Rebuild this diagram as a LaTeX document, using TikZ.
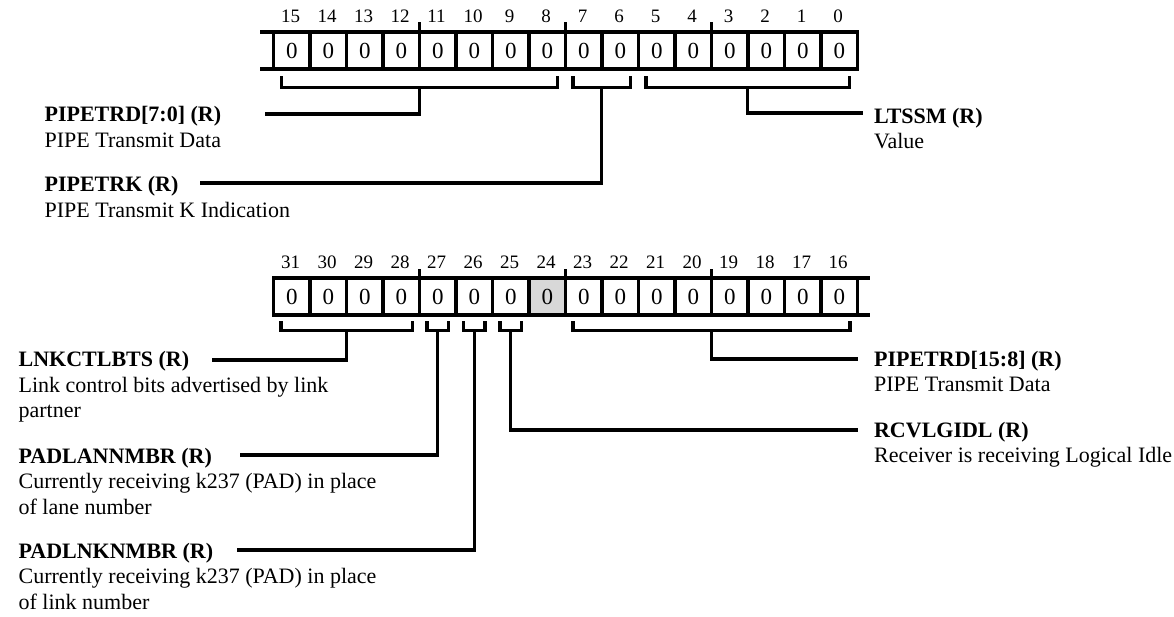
\documentclass[tikz,border=0pt]{standalone}
\usepackage{fontspec}
\setmainfont{Liberation Serif}
\begin{document}
\begin{tikzpicture}[x=1pt,y=-1pt,line width=3.2pt,line join=miter,
  cell/.style={draw,minimum width=36.5pt,minimum height=37pt,inner sep=0pt,outer sep=0pt,anchor=north west,font=\fontsize{23}{25}\selectfont},
  bitnum/.style={inner sep=0pt,font=\fontsize{19}{21}\selectfont},
  lbl/.style={anchor=base west,align=left,inner sep=0pt,font=\fontsize{22}{25.5}\selectfont},
  wire/.style={line width=3.2pt,line join=miter}]
\useasboundingbox (0,0) rectangle (1174,616);
\fill[white] (0,0) rectangle (1174,616);

% ---------- top register (bits 15..0)
\foreach \i in {0,...,15}{
  \pgfmathtruncatemacro{\b}{15-\i}
  \node[cell] (t\b) at ({273.5+36.5*\i},32) {0};
  \node[bitnum] (tn\b) at ({273.5+36.5*\i+17},16.5) {\b};
}
\draw (260,32) -- (273.5,32);
\draw (260,69) -- (273.5,69);
\foreach \x in {419.5,565.5,711.5}{\draw (\x,32) -- (\x,22);}

% ---------- bottom register (bits 31..16)
\foreach \i in {0,...,15}{
  \pgfmathtruncatemacro{\b}{31-\i}
  \ifnum\b=24
    \node[cell,fill={rgb,255:red,216;green,216;blue,216}] (b\b) at ({273.5+36.5*\i},278) {0};
  \else
    \node[cell] (b\b) at ({273.5+36.5*\i},278) {0};
  \fi
  \node[bitnum] (bn\b) at ({273.5+36.5*\i+17},262) {\b};
}
\draw (857.5,278) -- (870,278);
\draw (857.5,315) -- (870,315);
\foreach \x in {419.5,565.5,711.5}{\draw (\x,278) -- (\x,268.5);}

% ---------- labels (anchor = baseline of the last line)
\node[lbl] (lTRDlo) at (43,147.2) {\textbf{PIPETRD[7:0] (R)}\\PIPE Transmit Data};
\node[lbl] (lTRK) at (43,217.2) {\textbf{PIPETRK (R)}\\PIPE Transmit K Indication};
\node[lbl] (lLTSSM) at (872.5,148.5) {\textbf{LTSSM (R)}\\Value};
\node[lbl] (lLNK) at (17,417.7) {\textbf{LNKCTLBTS (R)}\\Link control bits advertised by link\\partner};
\node[lbl] (lPLANE) at (17,514) {\textbf{PADLANNMBR (R)}\\Currently receiving k237 (PAD) in place\\of lane number};
\node[lbl] (lPLNK) at (17,609) {\textbf{PADLNKNMBR (R)}\\Currently receiving k237 (PAD) in place\\of link number};
\node[lbl] (lTRDhi) at (872.5,391.5) {\textbf{PIPETRD[15:8] (R)}\\PIPE Transmit Data};
\node[lbl] (lRCV) at (872.5,462.5) {\textbf{RCVLGIDL (R)}\\Receiver is receiving Logical Idle};

% ---------- connector ends
\coordinate (eTRDlo) at (265,114);
\coordinate (eTRK) at (200,183);
\coordinate (eLTSSM) at (863,113);
\coordinate (eLNK) at (212,360);
\coordinate (ePLANE) at (240,455);
\coordinate (ePLNK) at (237,550);
\coordinate (eRCV) at (858,430);
\coordinate (eTRDhi) at (858,359);

% ---------- brackets and connectors (top)
\draw[wire] (281.5,76) |- (557.5,87.5) -- (557.5,76);
\draw[wire] (419.5,87.5) |- (eTRDlo);
\draw[wire] (573,76) |- (630.5,87.5) -- (630.5,76);
\draw[wire] (601.75,87.5) |- (eTRK);
\draw[wire] (646,76) |- (849.5,87.5) -- (849.5,76);
\draw[wire] (747.75,87.5) |- (eLTSSM);

% ---------- brackets and connectors (bottom)
\draw[wire] (281,321) |- (412.5,330.5) -- (412.5,321);
\draw[wire] (346.75,330.5) |- (eLNK);
\draw[wire] (427,321) |- (448.5,330.5) -- (448.5,321);
\draw[wire] (437.75,330.5) |- (ePLANE);
\draw[wire] (463.5,321) |- (485,330.5) -- (485,321);
\draw[wire] (474.25,330.5) |- (ePLNK);
\draw[wire] (500,321) |- (521.5,330.5) -- (521.5,321);
\draw[wire] (510.75,330.5) |- (eRCV);
\draw[wire] (573,321) |- (850,330.5) -- (850,321);
\draw[wire] (711.5,330.5) |- (eTRDhi);
\end{tikzpicture}
\end{document}
